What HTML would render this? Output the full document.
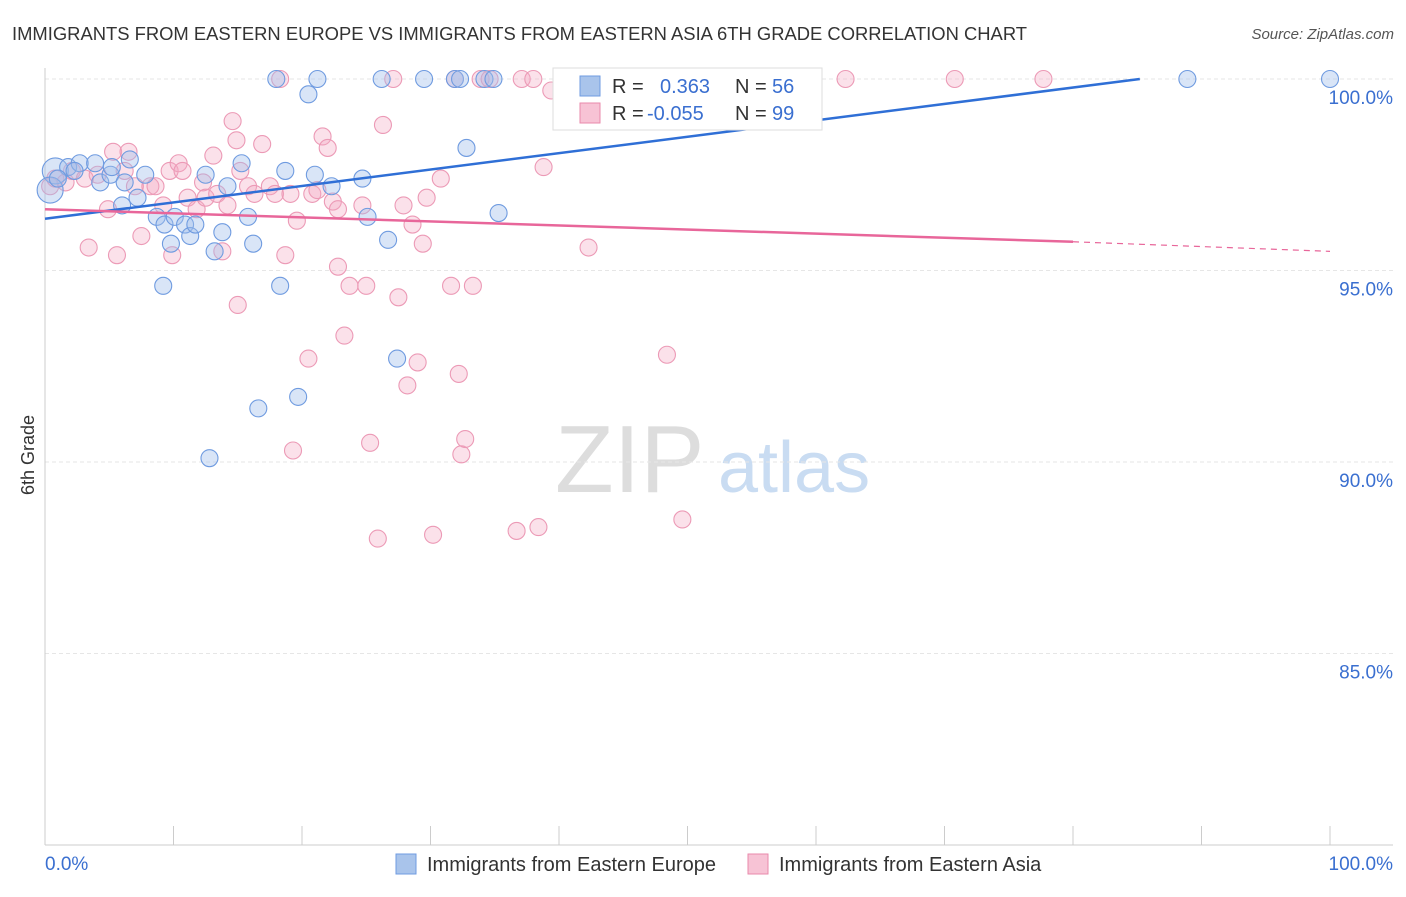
<!DOCTYPE html>
<html><head><meta charset="utf-8"><style>
body{margin:0;background:#fff;font-family:"Liberation Sans",sans-serif;}
svg text{font-family:"Liberation Sans",sans-serif;}
</style></head><body>
<svg id="c" width="1406" height="892" xmlns="http://www.w3.org/2000/svg">
<text x="12" y="40" font-size="18.4" fill="#333">IMMIGRANTS FROM EASTERN EUROPE VS IMMIGRANTS FROM EASTERN ASIA 6TH GRADE CORRELATION CHART</text>
<text x="1394" y="39" font-size="15" fill="#555" text-anchor="end" font-style="italic">Source: ZipAtlas.com</text>
<text x="34" y="455" font-size="18" fill="#333" transform="rotate(-90 34 455)" text-anchor="middle">6th Grade</text>
<text x="555" y="492" font-size="96" fill="#ddd" font-family="Liberation Serif">ZIP</text>
<text x="718" y="492" font-size="72" fill="#c9dcf2">atlas</text>
<g id="grid"></g><g id="pts"></g><g id="lines"></g>
<g>
<rect x="553" y="68" width="269" height="62" fill="#fff" stroke="#ddd"/>
<rect x="580" y="76" width="20" height="20" fill="#a9c4eb" stroke="#6f9be0"/>
<rect x="580" y="103" width="20" height="20" fill="#f7c3d5" stroke="#e98aab"/>
<text x="612" y="93" font-size="20" fill="#333">R = </text><text x="660" y="93" font-size="20" fill="#3a6fd0">0.363</text>
<text x="735" y="93" font-size="20" fill="#333">N = </text><text x="772" y="93" font-size="20" fill="#3a6fd0">56</text>
<text x="612" y="120" font-size="20" fill="#333">R = </text><text x="647" y="120" font-size="20" fill="#3a6fd0">-0.055</text>
<text x="735" y="120" font-size="20" fill="#333">N = </text><text x="772" y="120" font-size="20" fill="#3a6fd0">99</text>
</g>
<g>
<rect x="396" y="854" width="20" height="20" fill="#a9c4eb" stroke="#6f9be0"/>
<text x="427" y="871" font-size="20" fill="#333">Immigrants from Eastern Europe</text>
<rect x="748" y="854" width="20" height="20" fill="#f7c3d5" stroke="#e98aab"/>
<text x="779" y="871" font-size="20" fill="#333">Immigrants from Eastern Asia</text>
</g>
</svg>
<script>
const yTicks=[100,95,90,85];
const blueX=[0.8,0.4,1.8,2.7,3.9,4.3,5.1,5.2,6.2,6.6,6.0,7.2,7.8,8.7,9.3,9.8,9.2,10.1,10.9,11.3,11.7,12.5,13.2,13.8,14.2,15.3,15.8,16.2,16.6,12.8,18.0,20.5,21.2,18.3,18.7,19.7,21.0,22.3,24.7,25.1,26.2,26.7,27.4,29.5,31.9,32.3,32.8,34.2,34.9,35.3,88.9,100,1.0,2.3];
const blueY=[97.6,97.1,97.7,97.8,97.8,97.3,97.5,97.7,97.3,97.9,96.7,96.9,97.5,96.4,96.2,95.7,94.6,96.4,96.2,95.9,96.2,97.5,95.5,96.0,97.2,97.8,96.4,95.7,91.4,90.1,100,99.6,100,94.6,97.6,91.7,97.5,97.2,97.4,96.4,100,95.8,92.7,100,100,100,98.2,100,100,96.5,100,100,97.4,97.6];
const blueBig=[true,true];
const pinkX=[0.4,0.8,1.6,2.1,3.1,3.4,4.1,4.9,5.3,5.6,6.2,6.5,7.0,7.5,8.2,8.6,9.2,9.7,9.9,10.4,10.7,11.1,11.8,12.3,12.5,13.1,13.4,13.8,14.2,14.6,14.9,15.2,15.0,15.8,16.3,16.9,17.5,17.9,18.3,18.7,19.1,19.3,19.6,20.5,20.8,21.2,21.6,22.0,22.4,22.8,22.8,23.3,23.7,24.7,25.0,25.3,25.9,26.3,27.1,27.5,27.9,28.2,28.6,29.0,29.4,29.7,30.2,30.8,31.6,31.9,32.2,32.4,32.7,33.3,33.9,34.6,36.7,37.1,38.0,38.4,38.8,39.4,40.9,42.3,43.2,46.0,48.4,49.6,51.0,52.9,62.3,70.8,77.7];
const pinkY=[97.2,97.4,97.3,97.6,97.4,95.6,97.5,96.6,98.1,95.4,97.6,98.1,97.2,95.9,97.2,97.2,96.7,97.6,95.4,97.8,97.6,96.9,96.6,97.3,96.9,98.0,97.0,95.5,96.7,98.9,98.4,97.6,94.1,97.2,97.0,98.3,97.2,97.0,100,95.4,97.0,90.3,96.3,92.7,97.0,97.1,98.5,98.2,96.8,96.6,95.1,93.3,94.6,96.7,94.6,90.5,88.0,98.8,100,94.3,96.7,92.0,96.2,92.6,95.7,96.9,88.1,97.4,94.6,100,92.3,90.2,90.6,94.6,100,100,88.2,100,100,88.3,97.7,99.7,100,95.6,100,100,92.8,88.5,100,100,100,100,100];
const blueTrendX=[0,85.2];const blueTrendY=[96.35,100];
const pinkTrendX=[0,80];const pinkTrendY=[96.6,95.75];
const pinkDashX=[80,100];const pinkDashY=[95.75,95.5];
const NS='http://www.w3.org/2000/svg';
const X=v=>45+v*12.85, Y=v=>79+(100-v)*38.3;
function mk(t,a,p){const e=document.createElementNS(NS,t);for(const k in a)e.setAttribute(k,a[k]);p.appendChild(e);return e;}
const g=document.getElementById('grid');
yTicks.forEach(t=>{const l=mk('line',{x1:45,x2:1393,y1:Y(t),y2:Y(t),stroke:'#e6e6e6','stroke-dasharray':'4 3'},g);


const tx=mk('text',{x:1393,y:Y(t)+25,'font-size':19,fill:'#3a6fd0','text-anchor':'end'},g);tx.textContent=t.toFixed(1)+'%';

});
let ax=mk('line',{x1:45,x2:45,y1:68,y2:845,stroke:'#ccc'},g);


ax=mk('line',{x1:45,x2:1393,y1:845,y2:845,stroke:'#ccc'},g);


for(let i=0;i<=10;i++){const t=mk('line',{x1:X(i*10),x2:X(i*10),y1:826,y2:845,stroke:'#ccc'},g);

}
let xl=mk('text',{x:45,y:870,'font-size':19,fill:'#3a6fd0'},g);xl.textContent='0.0%';


xl=mk('text',{x:1393,y:870,'font-size':19,fill:'#3a6fd0','text-anchor':'end'},g);xl.textContent='100.0%';


const p=document.getElementById('pts');
pinkX.forEach((v,i)=>{const c=mk('circle',{cx:X(v),cy:Y(pinkY[i]),r:8.5,fill:'rgba(244,170,196,0.35)',stroke:'#ec9ab6','stroke-width':1.1},p);

});
blueX.forEach((v,i)=>{const c=mk('circle',{cx:X(v),cy:Y(blueY[i]),r:blueBig[i]?13:8.5,fill:'rgba(160,190,235,0.4)',stroke:'#6f9be0','stroke-width':1.1},p);

});
const L=document.getElementById('lines');
let ln=mk('line',{x1:X(blueTrendX[0]),y1:Y(blueTrendY[0]),x2:X(blueTrendX[1]),y2:Y(blueTrendY[1]),stroke:'#2f6fd6','stroke-width':2.5},L);


ln=mk('line',{x1:X(pinkTrendX[0]),y1:Y(pinkTrendY[0]),x2:X(pinkTrendX[1]),y2:Y(pinkTrendY[1]),stroke:'#e8669a','stroke-width':2.5},L);


ln=mk('line',{x1:X(pinkDashX[0]),y1:Y(pinkDashY[0]),x2:X(pinkDashX[1]),y2:Y(pinkDashY[1]),stroke:'#e8669a','stroke-width':1.2,'stroke-dasharray':'6 5'},L);


</script>
</body></html>
